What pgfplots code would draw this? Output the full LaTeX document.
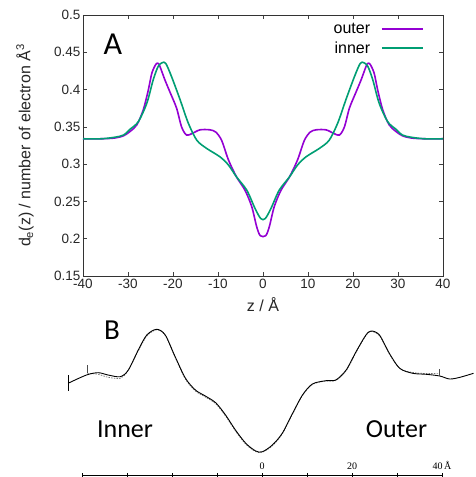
\documentclass[border=0pt]{standalone}
\usepackage{fontspec}
\setmainfont{Liberation Sans}
\newfontfamily\carlito{Carlito}
\newfontfamily\timesf{Liberation Serif}
\usepackage{pgfplots}
\pgfplotsset{compat=1.18}
\definecolor{outercol}{RGB}{148,0,211}
\definecolor{innercol}{RGB}{0,158,115}

\begin{document}
\begin{tikzpicture}[x=1pt,y=1pt]
\useasboundingbox (0,0) rectangle (476,477);

% ---- panel A: electron density profiles
\begin{axis}[
  at={(83pt,201pt)}, anchor=south west,
  width=360pt, height=261pt, scale only axis,
  xmin=-40, xmax=40, ymin=0.15, ymax=0.5,
  xtick={-40,-30,-20,-10,0,10,20,30,40},
  xticklabels={-40,-30,-20,-10,0,10,20,30,40},
  ytick={0.15,0.2,0.25,0.3,0.35,0.4,0.45,0.5},
  yticklabels={0.15,0.2,0.25,0.3,0.35,0.4,0.45,0.5},
  tick align=inside, major tick length=4pt,
  tick style={black!75, line width=0.6pt},
  axis line style={black!80, line width=0.8pt},
  ticklabel style={font=\fontsize{13.5}{13.5}\selectfont, text=black!85},
  yticklabel style={xshift=1pt},
  xlabel={z / Å},
  ylabel={d\textsubscript{e}(z) / number of electron Å\textsuperscript{3}},
  label style={font=\fontsize{16}{16}\selectfont, text=black!85},
  xlabel style={at={(axis description cs:0.5,0)}, anchor=center, yshift=-29pt},
  ylabel style={at={(axis description cs:-0.161,0.5)}, anchor=center},
  legend style={draw=none, fill=none, at={(1,1)}, anchor=north east,
    xshift=-16pt, yshift=-4pt, row sep=2.5pt, font=\fontsize{16}{16}\selectfont},
  legend cell align=right,
  legend plot pos=right,
  legend image code/.code={\path (0pt,0pt); \draw[#1, line width=1.7pt] (9pt,0pt) -- (50pt,0pt);},
]
\addplot[outercol, line width=1.6pt, smooth] coordinates {
(-40,0.334)(-36,0.334)(-33,0.335)(-31,0.338)(-29.5,0.344)(-28,0.353)
(-26.6,0.373)(-25.5,0.399)(-24.7,0.422)(-23.8,0.434)(-23.3,0.435)(-22.9,0.431)
(-21.8,0.413)(-20.7,0.397)(-19.2,0.375)(-18.1,0.350)(-17.0,0.339)(-15.8,0.341)
(-14.0,0.346)(-11.8,0.346)(-10.5,0.343)(-9.2,0.332)(-7.7,0.306)(-5.9,0.283)
(-4.0,0.265)(-2.5,0.243)(-1.4,0.216)(-0.6,0.204)(0.6,0.204)
(1.4,0.216)(2.5,0.243)(4.0,0.265)(5.9,0.283)(7.7,0.306)(9.2,0.332)
(10.5,0.343)(11.8,0.346)(14.0,0.346)(15.8,0.341)(17.0,0.339)(18.1,0.350)
(19.2,0.375)(20.7,0.397)(21.8,0.413)(22.9,0.431)(23.3,0.435)(23.8,0.434)
(24.7,0.422)(25.5,0.399)(26.6,0.373)(28,0.353)(29.5,0.344)(31,0.338)
(33,0.335)(36,0.334)(40,0.334)
};
\addlegendentry{outer}
\addplot[innercol, line width=1.6pt, smooth] coordinates {
(-40,0.334)(-36,0.334)(-33,0.336)(-31,0.339)(-29.5,0.347)(-27.7,0.357)
(-25.8,0.382)(-24.4,0.413)(-23.3,0.431)(-22.4,0.436)(-21.6,0.435)(-20.3,0.417)
(-18.4,0.386)(-16.6,0.355)(-14.7,0.332)(-12.5,0.321)(-9.6,0.310)(-7.7,0.299)
(-5.9,0.283)(-3.6,0.265)(-1.8,0.241)(-0.5,0.227)(0.5,0.227)
(1.8,0.241)(3.6,0.265)(5.9,0.283)(7.7,0.299)(9.6,0.310)(12.5,0.321)
(14.7,0.332)(16.6,0.355)(18.4,0.386)(20.3,0.417)(21.6,0.435)(22.4,0.436)
(23.3,0.431)(24.4,0.413)(25.8,0.382)(27.7,0.357)(29.5,0.347)(31,0.339)
(33,0.336)(36,0.334)(40,0.334)
};
\addlegendentry{inner}
\end{axis}

% ---- panel B: reference profile (solid and dashed)
\begin{axis}[
  at={(82pt,0pt)}, anchor=south west,
  width=360pt, height=477pt, scale only axis,
  xmin=-40, xmax=40, ymin=0, ymax=477,
  hide axis, clip=false,
]
\addplot[black!55, line width=0.7pt, dash pattern=on 1.5pt off 1.2pt, smooth] coordinates {
(-38.8,103.7)(-36.4,102.7)(-34.2,99.7)(-31.5,98.7)(-29.9,105.5)(-27.5,126)
(-25.6,141)(-23.4,147.2)(-21.5,141.5)(-19.3,119.5)(-17.0,97.7)(-14.8,86)
(-12.6,80)(-10.3,73.3)(-8.1,61)(-5.9,46)(-3.6,32.7)(-1.4,25.3)(0.1,24.8)
(2.3,31.2)(4.5,43)(6.8,63)(9.0,81.5)(11.2,92.5)(14.2,96)(16.4,96.5)
(18.7,106.2)(20.9,124.5)(23.1,141.5)(24.3,145.5)(26.1,141.2)(28.3,123)
(30.6,108.5)(33.5,104.5)(36.5,103.5)(39.5,103.7)
};
\addplot[black, line width=0.9pt, smooth] coordinates {
(-43.1,93.7)(-39.0,102)(-36.4,104.3)(-34.2,102)(-31.5,100.3)(-29.7,107)
(-27.5,127)(-25.6,142)(-23.4,147.7)(-21.5,142)(-19.3,120.3)(-17.0,98.7)
(-14.8,87)(-12.6,81)(-10.3,74.3)(-8.1,62)(-5.9,47)(-3.6,33.7)(-1.4,26)
(0.1,25.3)(2.3,32)(4.5,43.7)(6.8,63.7)(9.0,82)(11.2,93)(14.2,96.3)
(16.4,97)(18.7,107)(20.9,125.3)(23.1,142)(24.3,146)(26.1,142)(28.3,123.7)
(30.6,108.7)(33.5,103.7)(36.5,102.7)(39.5,101)(41.7,98)(44.0,99.7)(47.0,103.7)
};
% end bars of the two profiles
\addplot[black, line width=0.7pt] coordinates {(-43.1,86)(-43.1,102)};
\addplot[black!70, line width=0.6pt] coordinates {(-38.8,103.7)(-38.8,112)};
\addplot[black!70, line width=0.6pt] coordinates {(39.5,101)(39.5,108)};
\end{axis}

% ---- panel B: distance scale
\begin{axis}[
  at={(82pt,1pt)}, anchor=south west,
  width=360pt, height=1pt, scale only axis,
  xmin=-40, xmax=40, ymin=0, ymax=1,
  axis x line=top, axis y line=none,
  axis line style={-, black, line width=0.7pt},
  xtick={-40,-30,-20,-10,0,10,20,30,40},
  xticklabels={,,,,0,,20,,40\,Å},
  tick align=center, major tick length=4pt,
  tick style={black, line width=0.6pt},
  ticklabel style={font=\timesf\fontsize{10}{10}\selectfont},
]
\end{axis}

\node[font=\carlito\fontsize{32}{32}\selectfont, inner sep=0pt] at (113,433) {A};
\node[font=\carlito\fontsize{29}{29}\selectfont, inner sep=0pt] at (112,147) {B};
\node[font=\carlito\fontsize{26}{26}\selectfont, inner sep=0pt] at (125,48) {Inner};
\node[font=\carlito\fontsize{26}{26}\selectfont, inner sep=0pt] at (396.5,48) {Outer};
\end{tikzpicture}
\end{document}
